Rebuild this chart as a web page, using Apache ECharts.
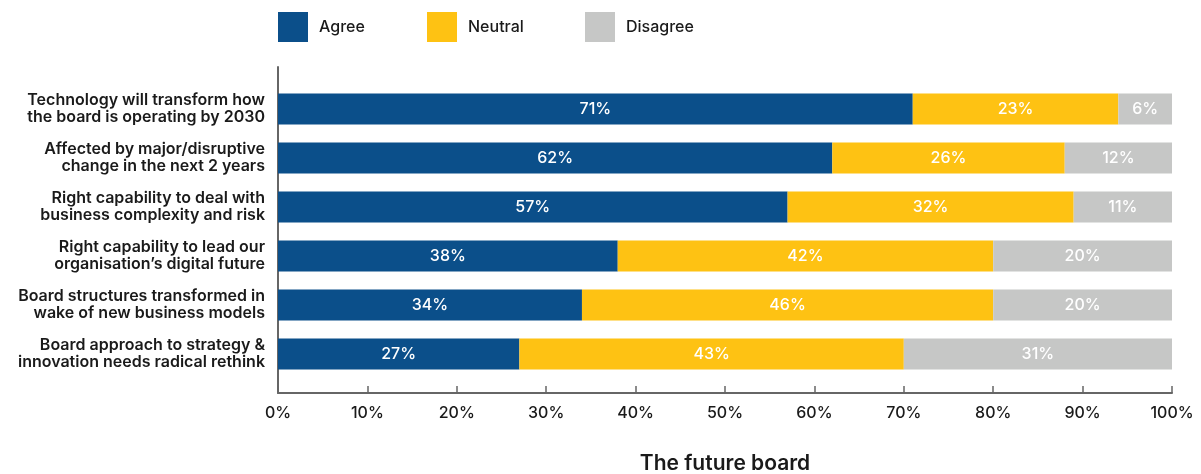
<!DOCTYPE html>
<html>
<head>
<meta charset="utf-8">
<script src="https://cdn.jsdelivr.net/npm/echarts@6/dist/echarts.min.js"></script>
<style>
  html, body { margin: 0; padding: 0; background: #fff; }
  #chart { width: 1201px; height: 474px; }
</style>
</head>
<body>
<div id="chart"></div>
<script>
// Survey statements, top to bottom
const categories = [
  'Technology will transform how\nthe board is operating by 2030',
  'Affected by major/disruptive\nchange in the next 2 years',
  'Right capability to deal with\nbusiness complexity and risk',
  'Right capability to lead our\norganisation\u2019s digital future',
  'Board structures transformed in\nwake of new business models',
  'Board approach to strategy &\ninnovation needs radical rethink'
];
const agree    = [71, 62, 57, 38, 34, 27];
const neutral  = [23, 26, 32, 42, 46, 43];
const disagree = [6, 12, 11, 20, 20, 31];
const seriesNames = ['Agree', 'Neutral', 'Disagree'];
const seriesColors = ['#0b4f8a', '#fec213', '#c6c7c6'];
const chartTitle = 'The future board';

const FONT = 'Inter, "Noto Sans", sans-serif';
const TEXT = '#1a1a1a';
const AXIS = '#666666';

const chart = echarts.init(document.getElementById('chart'), null, { renderer: 'canvas' });

function barSeries(i, values) {
  return {
    name: seriesNames[i],
    type: 'bar',
    stack: 'total',
    xAxisIndex: 0,
    yAxisIndex: 0,
    barWidth: 31,
    data: values,
    itemStyle: { color: seriesColors[i] },
    label: {
      show: true,
      position: 'inside',
      formatter: '{c}%',
      color: '#ffffff',
      fontFamily: FONT,
      fontSize: 16,
      fontWeight: 500
    },
    emphasis: { disabled: true }
  };
}

function legendAt(i, left) {
  return {
    data: [seriesNames[i]],
    left: left,
    top: 12,
    padding: 0,
    icon: 'rect',
    itemWidth: 30,
    itemHeight: 30,
    selectedMode: false,
    textStyle: {
      fontFamily: FONT,
      fontSize: 16,
      fontWeight: 500,
      color: TEXT,
      padding: [0, 0, 0, 6]
    }
  };
}

chart.setOption({
  animation: false,
  backgroundColor: '#ffffff',
  legend: [legendAt(0, 278), legendAt(1, 427), legendAt(2, 585)],
  grid: [
    { left: 278, right: 29, top: 84.5, bottom: 95.5, outerBoundsMode: 'none' },
    { left: 278, right: 29, top: 67, bottom: 81, outerBoundsMode: 'none' }
  ],
  xAxis: [
    {
      gridIndex: 0,
      type: 'value',
      min: 0,
      max: 100,
      interval: 10,
      offset: 14.5,
      name: chartTitle,
      nameLocation: 'middle',
      nameGap: 60,
      nameTextStyle: { fontFamily: FONT, fontSize: 21, fontWeight: 600, color: TEXT },
      axisLine: { show: true, lineStyle: { color: AXIS, width: 2 } },
      axisTick: { show: true, inside: true, length: 7, lineStyle: { color: AXIS, width: 1.5 } },
      splitLine: { show: false },
      axisLabel: {
        formatter: '{value}%',
        margin: 12,
        fontFamily: FONT,
        fontSize: 16,
        fontWeight: 500,
        color: TEXT
      }
    },
    { gridIndex: 1, type: 'value', min: 0, max: 100, show: false }
  ],
  yAxis: [
    {
      gridIndex: 0,
      type: 'category',
      inverse: true,
      data: categories,
      axisLine: { show: false },
      axisTick: { show: false },
      axisLabel: {
        margin: 13,
        fontFamily: FONT,
        fontSize: 16,
        fontWeight: 600,
        lineHeight: 17,
        color: TEXT,
        align: 'right'
      }
    },
    {
      gridIndex: 1,
      type: 'category',
      data: [''],
      axisLine: { show: true, lineStyle: { color: AXIS, width: 2 } },
      axisTick: { show: false },
      axisLabel: { show: false }
    }
  ],
  series: [
    barSeries(0, agree),
    barSeries(1, neutral),
    barSeries(2, disagree)
  ]
});
</script>
</body>
</html>
